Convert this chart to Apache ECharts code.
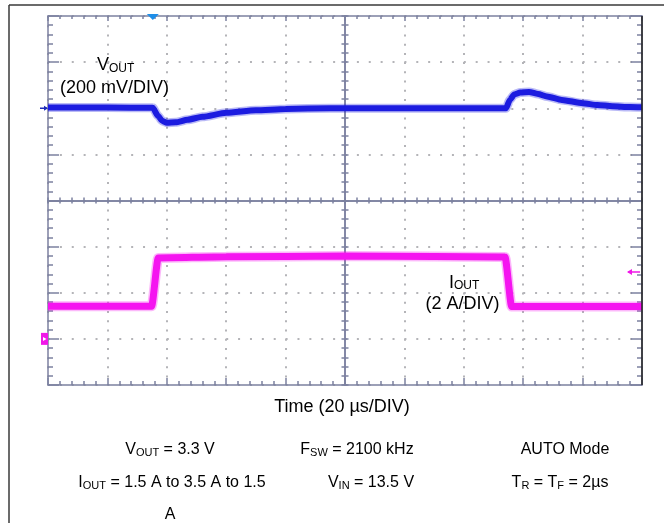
<!DOCTYPE html>
<html>
<head>
<meta charset="utf-8">
<script src="https://cdn.jsdelivr.net/npm/echarts@6/dist/echarts.min.js"></script>
<style>
html, body { margin: 0; padding: 0; background: #fff; }
#chart { width: 664px; height: 523px; }
</style>
</head>
<body>
<div id="chart"></div>
<script>
// time in µs (20 µs/DIV, 10 DIV)
const vTime = [0, 20, 35.3, 37, 38.5, 40, 43, 47, 52, 60, 70, 80, 95, 120, 154.2, 155.5, 157, 159, 162, 165, 168, 173, 180, 185, 190, 196, 200]
// VOUT in V (200 mV/DIV)
const vOut = [3.303, 3.303, 3.302, 3.267, 3.245, 3.237, 3.239, 3.25, 3.263, 3.28, 3.291, 3.297, 3.3, 3.3, 3.3, 3.336, 3.36, 3.368, 3.371, 3.362, 3.351, 3.336, 3.322, 3.314, 3.309, 3.305, 3.304]
const iTime = [0, 34.9, 37.1, 60, 100, 130, 153.9, 156.1, 200]
// IOUT in A (2 A/DIV)
const iOut = [1.42, 1.42, 3.51, 3.56, 3.59, 3.57, 3.55, 1.4, 1.4]

const triggerTime = 35.3
const vRef = 3.3 // channel 1 marker
const iRef = 0 // channel 2 ground marker
const iTrigLevel = 2.9

const gridColor = '#7c81a0'
const dotColor = '#b4b4b8'

const chart = echarts.init(document.getElementById('chart'))

function frameAxis (extra, tickLen, minorLen, inside) {
  return Object.assign({
    type: 'value',
    axisLabel: { show: false },
    splitLine: { show: false },
    axisLine: { show: true, onZero: false, lineStyle: { color: gridColor, width: 1.5 } },
    axisTick: { show: true, inside: inside, length: tickLen, lineStyle: { color: gridColor, width: 1.5 } },
    minorTick: { show: true, splitNumber: 5, length: minorLen, lineStyle: { color: gridColor, width: 1.5 } }
  }, extra)
}

const xRange = { min: 0, max: 200, interval: 20 }
const divRange = { min: 0, max: 8, interval: 1 }

function trace (name, yIdx, times, vals, color, width) {
  const data = times.map((t, i) => [t, vals[i]])
  return [
    { name: name, type: 'line', xAxisIndex: 0, yAxisIndex: yIdx, showSymbol: false, smooth: 0.2, smoothMonotone: 'x',
      data: data, lineStyle: { color: color, width: width + 3, opacity: 0.3 }, z: 4, silent: true },
    { name: name, type: 'line', xAxisIndex: 0, yAxisIndex: yIdx, showSymbol: false, smooth: 0.2, smoothMonotone: 'x',
      data: data, lineStyle: { color: color, width: width }, z: 5 }
  ]
}

chart.setOption({
  animation: false,
  grid: { left: 48, top: 16, width: 594, height: 369, containLabel: false, outerBoundsMode: 'none' },
  xAxis: [
    frameAxis(Object.assign({ position: 'bottom',
      splitLine: { show: true, lineStyle: { color: dotColor, width: 2, type: [2, 7.22] } } }, xRange), 7, 4, true),
    frameAxis(Object.assign({ position: 'top' }, xRange), 5, 3, true),
    frameAxis(Object.assign({ position: 'bottom', offset: -184.5 }, xRange), 3, 3, true),
    frameAxis(Object.assign({ position: 'bottom', offset: -184.5 }, xRange), 3, 3, false)
  ],
  yAxis: [
    { type: 'value', show: false, min: 2.1, max: 3.7 },
    { type: 'value', show: false, min: -2, max: 14 },
    frameAxis(Object.assign({ position: 'left',
      splitLine: { show: true, lineStyle: { color: dotColor, width: 2, type: [2, 9.88] } } }, divRange), 11, 5, true),
    frameAxis(Object.assign({ position: 'right' }, divRange), 11, 5, true),
    frameAxis(Object.assign({ position: 'left', offset: -297 }, divRange), 3.5, 3.5, true),
    frameAxis(Object.assign({ position: 'left', offset: -297 }, divRange), 3.5, 3.5, false)
  ],
  series: [].concat(
    trace('VOUT', 0, vTime, vOut, '#1c1ce0', 6),
    trace('IOUT', 1, iTime, iOut, '#f514f0', 7)
  )
})

const trigX = chart.convertToPixel({ xAxisIndex: 0 }, triggerTime)
const ch1Y = chart.convertToPixel({ yAxisIndex: 0 }, vRef)
const ch2Y = chart.convertToPixel({ yAxisIndex: 1 }, iRef)
const trigY = chart.convertToPixel({ yAxisIndex: 1 }, iTrigLevel)

const richMain = (size) => ({ fontSize: size, lineHeight: size + 4, verticalAlign: 'bottom', fontFamily: 'Liberation Sans, Arial', color: '#111' })
const richSub = (size) => ({ fontSize: size, lineHeight: size + 3, verticalAlign: 'bottom', fontFamily: 'Liberation Sans, Arial', color: '#111' })

function label (x, y, text, size, subSize, align) {
  return {
    type: 'text',
    x: x,
    y: y,
    z: 20,
    style: {
      text: text,
      align: align || 'left',
      verticalAlign: 'middle',
      rich: { m: richMain(size), s: richSub(subSize) }
    }
  }
}

chart.setOption({
  graphic: [
    // outer frame
    { type: 'line', shape: { x1: 9, y1: 5, x2: 664, y2: 5 }, style: { stroke: '#3a3a3a', lineWidth: 1.5 } },
    { type: 'line', shape: { x1: 9, y1: 5, x2: 9, y2: 523 }, style: { stroke: '#3a3a3a', lineWidth: 1.5 } },
    // right edge darker
    { type: 'line', shape: { x1: 642, y1: 16, x2: 642, y2: 385 }, style: { stroke: '#222', lineWidth: 1.5 }, z: 10 },
    // trigger marker
    { type: 'polygon', shape: { points: [[trigX - 6, 14], [trigX + 6, 14], [trigX, 20]] }, style: { fill: '#1e8ee8' }, z: 12 },
    // ch1 marker
    { type: 'polyline', shape: { points: [[40, ch1Y], [47, ch1Y]] }, style: { stroke: '#1c2bb8', lineWidth: 1.5 }, z: 12 },
    { type: 'polygon', shape: { points: [[44, ch1Y - 2.5], [48, ch1Y], [44, ch1Y + 2.5]] }, style: { fill: '#1c2bb8' }, z: 12 },
    // ch2 marker
    { type: 'rect', shape: { x: 41, y: ch2Y - 6, width: 7, height: 12 }, style: { fill: '#f018e8' }, z: 12 },
    { type: 'polygon', shape: { points: [[43, ch2Y - 2], [46.5, ch2Y], [43, ch2Y + 2]] }, style: { fill: '#fff' }, z: 13 },
    // ch2 trigger level
    { type: 'polyline', shape: { points: [[628, trigY], [640, trigY]] }, style: { stroke: '#f018e8', lineWidth: 1.5 }, z: 12 },
    { type: 'polygon', shape: { points: [[632, trigY - 3], [627, trigY], [632, trigY + 3]] }, style: { fill: '#f018e8' }, z: 12 },
    // trace labels
    label(97, 63.5, '{m|V}{s|OUT}', 18, 12),
    label(60, 86, '{m|(200 mV/DIV)}', 18, 12),
    label(449, 281, '{m|I}{s|OUT}', 18, 12),
    label(462.5, 302.5, '{m|(2 A/DIV)}', 18, 12, 'center'),
    label(342, 405, '{m|Time (20 µs/DIV)}', 18, 12, 'center'),
    // conditions
    label(170, 448, '{m|V}{s|OUT}{m| = 3.3 V}', 16, 11, 'center'),
    label(357, 448, '{m|F}{s|SW}{m| = 2100 kHz}', 16, 11, 'center'),
    label(565, 448, '{m|AUTO Mode}', 16, 11, 'center'),
    label(172, 481, '{m|I}{s|OUT}{m| = 1.5 A to 3.5 A to 1.5}', 16, 11, 'center'),
    label(371, 481, '{m|V}{s|IN}{m| = 13.5 V}', 16, 11, 'center'),
    label(560, 481, '{m|T}{s|R}{m| = T}{s|F}{m| = 2µs}', 16, 11, 'center'),
    label(170, 513, '{m|A}', 16, 11, 'center')
  ]
})
</script>
</body>
</html>
